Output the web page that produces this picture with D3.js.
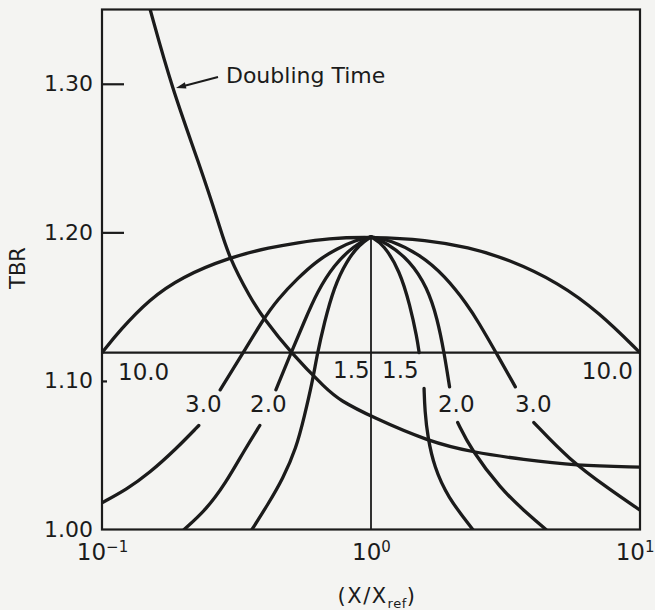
<!DOCTYPE html>
<html><head><meta charset="utf-8">
<script src="https://cdn.jsdelivr.net/npm/d3@7/dist/d3.min.js"></script>
<style>
html,body{margin:0;padding:0;background:#f4f4f2;}
svg{display:block;}
text{font-family:"DejaVu Sans",sans-serif;fill:#1b1b1b;}
</style></head><body>
<svg id="chart" width="655" height="610"></svg>
<script>
// ---------- data ----------
const xTicks = [0.1, 1, 10];
const xTickExp = ["\u22121", "0", "1"];
const yTicks = [1.00, 1.10, 1.20, 1.30];
const yTickLabels = ["1.00", "1.10", "1.20", "1.30"];
const refLevel = 1.119;          // horizontal reference line
const peakTBR = 1.197;           // common apex at X/Xref = 1

const dome10 = [[0.1,1.119],[0.1164,1.134],[0.150,1.155],[0.198,1.170],[0.295,1.183],[0.425,1.190],[0.533,1.193],[0.687,1.196],[1,1.197],[1.618,1.195],[2.29,1.190],[3.24,1.182],[4.99,1.166],[7.06,1.146],[10,1.119]];

const c30LeftUpper = [[0.275,1.094],[0.335,1.119],[0.396,1.141],[0.450,1.155],[0.533,1.169],[0.631,1.181],[0.746,1.189],[0.885,1.195],[1,1.197]];
const c30LeftLower = [[0.1,1.018],[0.1236,1.027],[0.150,1.038],[0.188,1.054],[0.229,1.070]];
const c30RightUpper = [[1,1.197],[1.175,1.195],[1.524,1.185],[1.875,1.171],[2.29,1.151],[2.50,1.140],[2.92,1.119],[3.44,1.096]];
const c30RightLower = [[4.03,1.072],[5.45,1.047],[7.71,1.027],[10,1.013]];

const c20LeftUpper = [[0.443,1.094],[0.502,1.118],[0.565,1.140],[0.631,1.160],[0.728,1.178],[0.863,1.191],[1,1.197]];
const c20LeftLower = [[0.202,1.000],[0.243,1.013],[0.288,1.031],[0.340,1.054],[0.386,1.070]];
const c20RightUpper = [[1,1.197],[1.143,1.193],[1.396,1.181],[1.618,1.163],[1.765,1.142],[1.875,1.118],[1.959,1.096]];
const c20RightLower = [[2.10,1.072],[2.35,1.054],[3.05,1.027],[3.69,1.013],[4.47,1.000]];

const c15Left = [[0.361,1.000],[0.414,1.017],[0.470,1.034],[0.528,1.055],[0.565,1.076],[0.605,1.099],[0.631,1.118],[0.670,1.139],[0.728,1.163],[0.813,1.181],[0.908,1.192],[1,1.197]];
const c15RightUpper = [[1,1.197],[1.114,1.192],[1.280,1.174],[1.396,1.151],[1.483,1.129],[1.510,1.119]];
const c15RightLower = [[1.575,1.095],[1.585,1.080],[1.625,1.062],[1.719,1.042],[1.923,1.022],[2.39,1.000]];

const doublingTime = [[0.151,1.350],[0.182,1.297],[0.229,1.247],[0.273,1.205],[0.295,1.184],[0.358,1.155],[0.396,1.143],[0.502,1.119],[0.687,1.094],[0.766,1.087],[1.0,1.076],[1.647,1.059],[2.39,1.052],[3.70,1.047],[5.71,1.043],[10,1.042]];

const curveLabels = ["10.0","3.0","2.0","1.5","1.5","2.0","3.0","10.0"];
const curveLabelAt = [[0.1147,1.1006,"start"],[0.2035,1.0791,"start"],[0.3550,1.0791,"start"],[0.7226,1.1020,"start"],[1.099,1.1020,"start"],[1.774,1.0791,"start"],[3.430,1.0791,"start"],[9.42,1.1013,"end"]];

// ---------- layout ----------
const L = 102, R = 640, T = 9.5, B = 529.5;
const ink = "#1b1b1b";
const svg = d3.select("#chart");
svg.append("rect").attr("width",655).attr("height",610).attr("fill","#f4f4f2");

const x = d3.scaleLog().domain([0.1, 10]).range([L, R]);
const y = d3.scaleLinear().domain([1.0, 1.35]).range([B, T]);

svg.append("clipPath").attr("id","plotclip").append("rect")
  .attr("x",L).attr("y",T).attr("width",R-L).attr("height",B-T);

const plot = svg.append("g").attr("clip-path","url(#plotclip)");
const line = d3.line().x(d=>x(d[0])).y(d=>y(d[1])).curve(d3.curveBasis);

// reference lines
plot.append("line").attr("x1",x(0.1)).attr("x2",x(10)).attr("y1",y(refLevel)).attr("y2",y(refLevel))
  .attr("stroke",ink).attr("stroke-width",2.2);
plot.append("line").attr("x1",x(1)).attr("x2",x(1)).attr("y1",y(peakTBR)).attr("y2",y(1.0))
  .attr("stroke",ink).attr("stroke-width",1.8);

const series = [dome10, c30LeftUpper, c30LeftLower, c30RightUpper, c30RightLower,
  c20LeftUpper, c20LeftLower, c20RightUpper, c20RightLower,
  c15Left, c15RightUpper, c15RightLower, doublingTime];
plot.selectAll("path.curve").data(series).enter().append("path")
  .attr("class","curve").attr("d",line).attr("fill","none")
  .attr("stroke",ink).attr("stroke-width",3.3).attr("stroke-linecap","round");

// frame
svg.append("rect").attr("x",L).attr("y",T).attr("width",R-L).attr("height",B-T)
  .attr("fill","none").attr("stroke",ink).attr("stroke-width",2.2);

// y axis
const yAxis = d3.axisLeft(y).tickValues(yTicks).tickSize(-22).tickPadding(9)
  .tickFormat((d,i)=>yTickLabels[i]);
const gy = svg.append("g").attr("transform",`translate(${L},0)`).call(yAxis);
gy.select(".domain").remove();
gy.selectAll(".tick line").attr("stroke",ink).attr("stroke-width",2.2)
  .attr("x2",d=> Math.abs(d-1.10)<1e-9 ? 5 : (Math.abs(d-1.0)<1e-9 ? 0 : 22));
gy.selectAll(".tick text").attr("font-size","22px").attr("font-family","DejaVu Sans").attr("fill",ink);

// x axis
const xAxis = d3.axisBottom(x).tickValues(xTicks).tickSize(0).tickFormat("");
const gx = svg.append("g").attr("transform",`translate(0,${B})`).call(xAxis);
gx.select(".domain").remove();
gx.selectAll(".tick").each(function(d,i){
  const last = i === xTicks.length - 1;
  const t = d3.select(this).append("text").attr("y",30.5)
    .attr("x", last ? 14 : 0)
    .attr("text-anchor", last ? "end" : "middle")
    .attr("font-size","23px").attr("fill",ink);
  t.append("tspan").text("10");
  t.append("tspan").attr("font-size","15px").attr("dy",-8).text(xTickExp[i]);
});

// axis titles
const xt = svg.append("text").attr("x",377).attr("y",603).attr("text-anchor","middle")
  .attr("font-size","21px").attr("letter-spacing","1.5px");
xt.append("tspan").text("(X/X");
xt.append("tspan").attr("font-size","13px").attr("dy",5).attr("letter-spacing","0.5px").text("ref");
xt.append("tspan").attr("dy",-5).text(")");

svg.append("text").attr("transform","translate(25,268) rotate(-90)").attr("text-anchor","middle")
  .attr("font-size","21px").text("TBR");

// curve labels
svg.selectAll("text.clab").data(curveLabels).enter().append("text").attr("class","clab")
  .attr("x",(d,i)=>x(curveLabelAt[i][0])).attr("y",(d,i)=>y(curveLabelAt[i][1]))
  .attr("text-anchor",(d,i)=>curveLabelAt[i][2]).attr("font-size","23px").text(d=>d);

// Doubling Time annotation
svg.append("text").attr("x",x(0.289)).attr("y",y(1.3005)).attr("font-size","22px").text("Doubling Time");
const ax1 = x(0.2699), ay1 = y(1.3046), ax2 = x(0.1884), ay2 = y(1.2972);
svg.append("line").attr("x1",ax1).attr("y1",ay1).attr("x2",ax2+4).attr("y2",ay2-1)
  .attr("stroke",ink).attr("stroke-width",2);
const ang = Math.atan2(ay2-ay1, ax2-ax1);
const hl = 10, hw = 3.2;
const p1 = [ax2 - hl*Math.cos(ang) + hw*Math.sin(ang), ay2 - hl*Math.sin(ang) - hw*Math.cos(ang)];
const p2 = [ax2 - hl*Math.cos(ang) - hw*Math.sin(ang), ay2 - hl*Math.sin(ang) + hw*Math.cos(ang)];
svg.append("path").attr("d",`M${ax2},${ay2}L${p1[0]},${p1[1]}L${p2[0]},${p2[1]}Z`).attr("fill",ink);
</script>
</body></html>
